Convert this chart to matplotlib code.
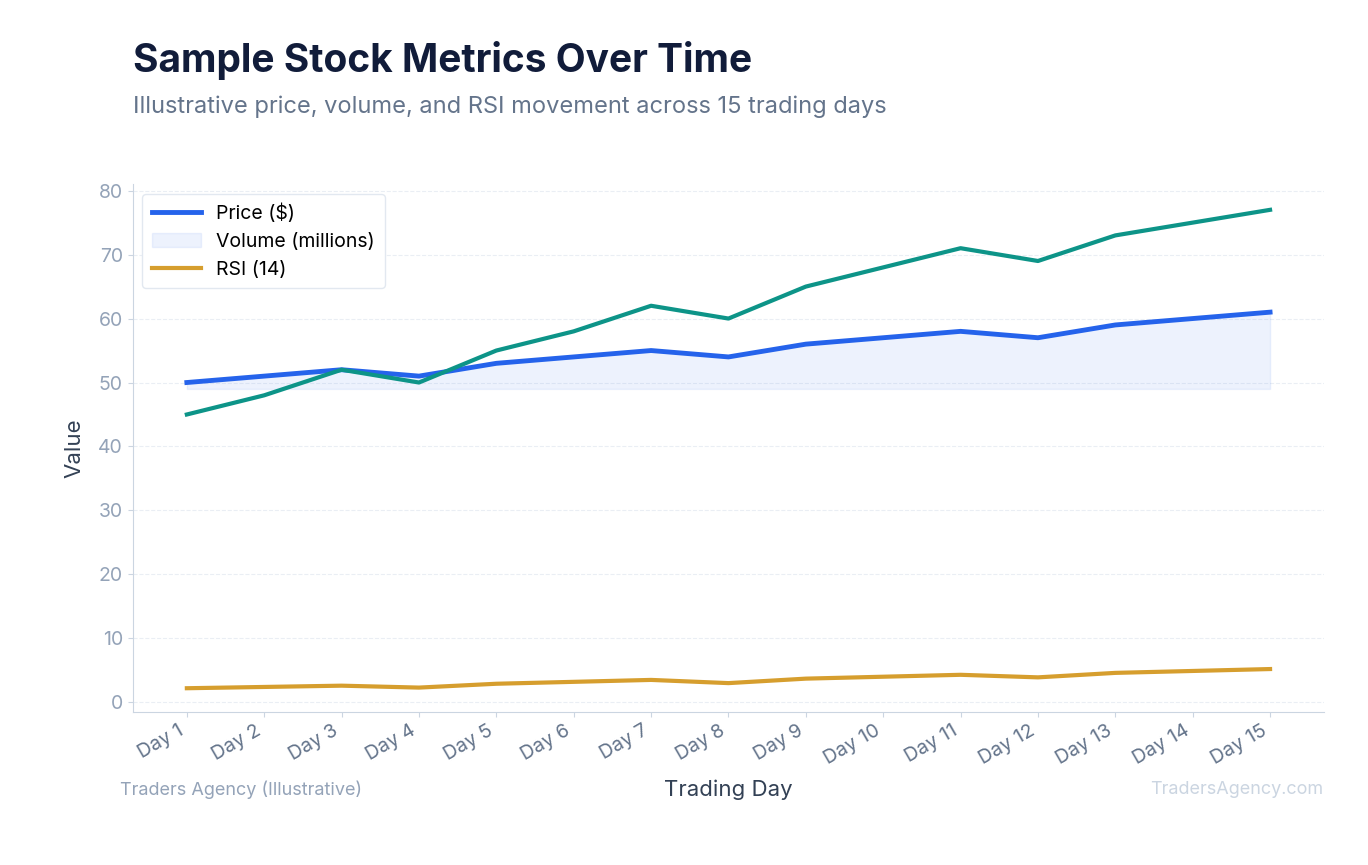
import matplotlib
matplotlib.use("Agg")
import matplotlib.pyplot as plt

plt.rcParams["font.family"] = ["Inter", "DejaVu Sans"]

days = [f"Day {i}" for i in range(1, 16)]
price = [50, 51, 52, 51, 53, 54, 55, 54, 56, 57, 58, 57, 59, 60, 61]
rsi = [45, 48, 52, 50, 55, 58, 62, 60, 65, 68, 71, 69, 73, 75, 77]
volume = [2.2, 2.4, 2.6, 2.3, 2.9, 3.2, 3.5, 3.0, 3.7, 4.0, 4.3, 3.9, 4.6, 4.9, 5.2]
fill_base = 49

C_INK = "#111c3a"
C_SUB = "#64748b"
C_TICK = "#94a3b8"

fig = plt.figure(figsize=(13.68, 8.65), dpi=100)
ax = fig.add_axes([0.097, 0.177, 0.871, 0.61])
x = list(range(len(days)))

ax.fill_between(x, fill_base, price, color="#2563eb", alpha=0.08, zorder=1,
                label="Volume (millions)")
ax.plot(x, price, color="#2563eb", lw=3.5, zorder=3, label="Price ($)")
ax.plot(x, rsi, color="#0d9488", lw=3, zorder=3)
ax.plot(x, volume, color="#d69e2e", lw=3, zorder=3, label="RSI (14)")

h, l = ax.get_legend_handles_labels()
order = [1, 0, 2]
leg = ax.legend([h[i] for i in order], [l[i] for i in order], loc="upper left",
                fontsize=14, frameon=True, edgecolor="#e2e8f0", framealpha=1,
                borderpad=0.5, handlelength=2.5)

ax.set_xlim(-0.7, 14.7)
ax.set_ylim(-1.5, 81)
ax.set_yticks(range(0, 81, 10))
ax.set_xticks(x)
ax.set_xticklabels(days, rotation=30, ha="right")
ax.tick_params(axis="both", labelsize=14, colors="#cbd5e1")
for t in ax.get_xticklabels():
    t.set_color(C_SUB)
for t in ax.get_yticklabels():
    t.set_color(C_TICK)
ax.grid(axis="y", color="#e2e8f0", lw=0.8, ls="--", alpha=0.7)
ax.set_axisbelow(True)
for s in ("top", "right"):
    ax.spines[s].set_visible(False)
for s in ("left", "bottom"):
    ax.spines[s].set_color("#cbd5e1")
ax.set_xlabel("Trading Day", fontsize=16, color="#334155", labelpad=8)
ax.set_ylabel("Value", fontsize=16, color="#334155", labelpad=10)

fig.text(0.097, 0.93, "Sample Stock Metrics Over Time", fontsize=28,
         fontweight="bold", color=C_INK, va="center")
fig.text(0.097, 0.877, "Illustrative price, volume, and RSI movement across 15 trading days",
         fontsize=17, color=C_SUB, va="center")
fig.text(0.088, 0.087, "Traders Agency (Illustrative)", fontsize=13, color=C_TICK, va="center")
fig.text(0.967, 0.087, "TradersAgency.com", fontsize=13, color="#cbd5e1", va="center", ha="right")

fig.savefig("out.png", dpi=100)
